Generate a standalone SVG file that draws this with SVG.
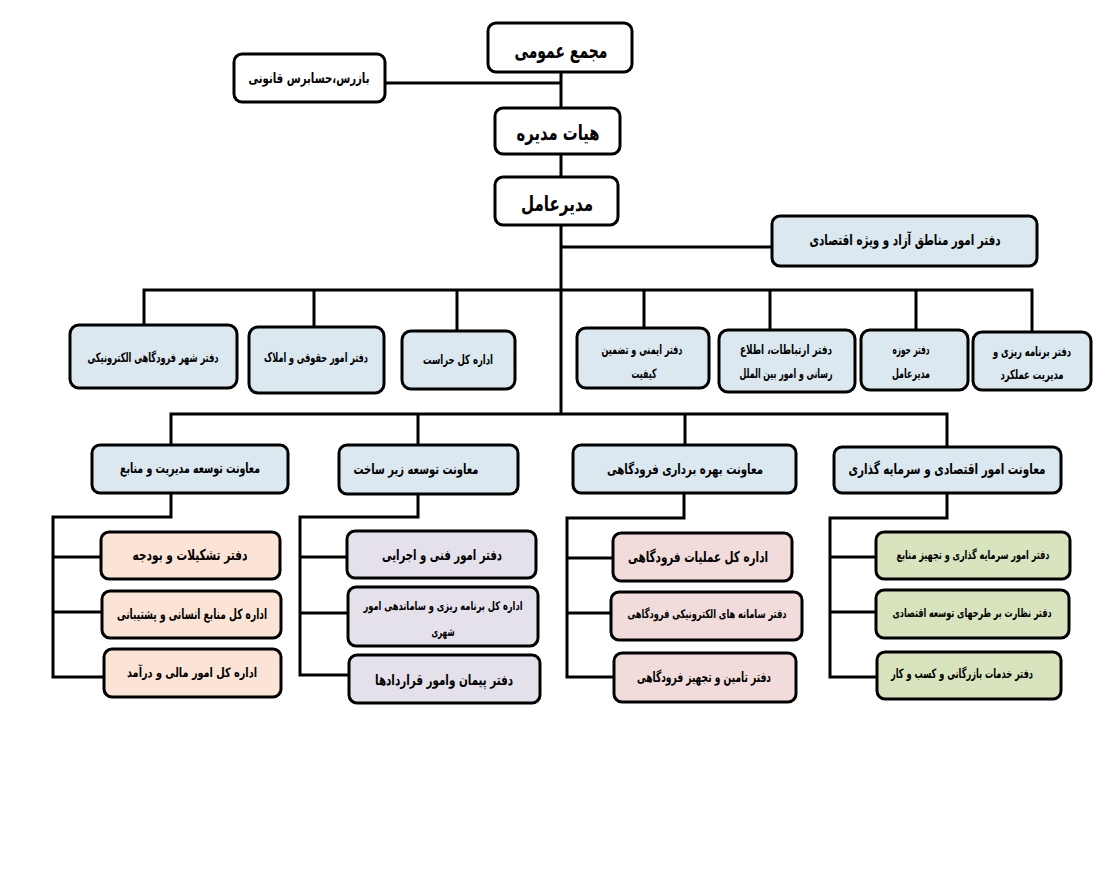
<svg xmlns="http://www.w3.org/2000/svg" width="1112" height="870" viewBox="0 0 1112 870">
<style>
.b{stroke:#000;stroke-width:3;}
.w{fill:#fff;}
.bl{fill:#dbe8f0;}
.pe{fill:#fbe4d5;}
.lv{fill:#e5e1eb;}
.pk{fill:#f2dcdb;}
.gr{fill:#d8e4bd;}
text{font-family:"DejaVu Sans Condensed","DejaVu Sans","Noto Sans",sans-serif;font-weight:bold;fill:#000;text-anchor:middle;direction:rtl;}
.c path{fill:none;stroke:#000;stroke-width:3;}
</style>
<rect width="1112" height="870" fill="#fff"/>
<g class="c" id="connectors">
<path d="M561,72 V108 M385,83 H561 M561,154 V177 M561,225 V414 M561,247 H772"/>
<path d="M144,325 V290 H1032 V332 M314,290 V327 M457,290 V331 M644,290 V328 M770,290 V330 M916,290 V330"/>
<path d="M171,445 V414 H947 V447 M418,414 V445 M685,414 V445"/>
<path d="M171,493 V517 H53 V677 H104 M53,557 H101 M53,612 H102"/>
<path d="M418,494 V517 H300 V675 H349 M300,557 H347 M300,613 H348"/>
<path d="M684,493 V518 H567 V677 H613 M567,558 H613 M567,613 H611"/>
<path d="M947,493 V518 H830 V677 H877 M830,557 H876 M830,612 H876"/>
</g>
<g id="n-majma"><rect class="b w" x="488" y="23" width="144" height="49" rx="8"/><text x="561" y="58" font-size="21" textLength="93" lengthAdjust="spacingAndGlyphs">مجمع عمومی</text></g>
<g id="n-bazras"><rect class="b w" x="234" y="54" width="151" height="48" rx="8"/><text x="309" y="83" font-size="14" textLength="121" lengthAdjust="spacingAndGlyphs">بازرس،حسابرس قانونی</text></g>
<g id="n-hayat"><rect class="b w" x="495" y="108" width="125" height="46" rx="8"/><text x="558" y="140" font-size="21" textLength="83" lengthAdjust="spacingAndGlyphs">هیات مدیره</text></g>
<g id="n-modir"><rect class="b w" x="495" y="177" width="123" height="48" rx="8"/><text x="557" y="211" font-size="21" textLength="72" lengthAdjust="spacingAndGlyphs">مدیرعامل</text></g>
<g id="n-manategh"><rect class="b bl" x="772" y="216" width="265" height="50" rx="8"/><text x="905" y="245" font-size="15" textLength="191" lengthAdjust="spacingAndGlyphs">دفتر  امور مناطق آزاد و ویژه اقتصادی</text></g>
<g id="n-shahr"><rect class="b bl" x="70" y="325" width="167" height="63" rx="9"/><text x="153" y="362" font-size="13" textLength="131" lengthAdjust="spacingAndGlyphs">دفتر شهر فرودگاهی  الکترونیکی</text></g>
<g id="n-hoghughi"><rect class="b bl" x="249" y="327" width="135" height="66" rx="9"/><text x="316" y="362" font-size="13" textLength="104" lengthAdjust="spacingAndGlyphs">دفتر امور حقوقی و املاک</text></g>
<g id="n-herasat"><rect class="b bl" x="402" y="331" width="113" height="58" rx="9"/><text x="458" y="364" font-size="13" textLength="70" lengthAdjust="spacingAndGlyphs">اداره کل حراست</text></g>
<g id="n-imeni"><rect class="b bl" x="577" y="328" width="132" height="60" rx="9"/><text x="642" y="354" font-size="13" textLength="81" lengthAdjust="spacingAndGlyphs">دفتر ایمنی  و تضمین</text><text x="644" y="378" font-size="13" textLength="25" lengthAdjust="spacingAndGlyphs">کیفیت</text></g>
<g id="n-ertebatat"><rect class="b bl" x="719" y="330" width="136" height="62" rx="9"/><text x="786" y="354" font-size="13" textLength="92" lengthAdjust="spacingAndGlyphs">دفتر ارتباطات، اطلاع</text><text x="786" y="378" font-size="13" textLength="93" lengthAdjust="spacingAndGlyphs">رسانی و امور بین الملل</text></g>
<g id="n-hoze"><rect class="b bl" x="861" y="330" width="107" height="60" rx="9"/><text x="911" y="354" font-size="13" textLength="37" lengthAdjust="spacingAndGlyphs">دفتر حوزه</text><text x="911" y="378" font-size="13" textLength="38" lengthAdjust="spacingAndGlyphs">مدیرعامل</text></g>
<g id="n-barnameh"><rect class="b bl" x="973" y="332" width="118" height="58" rx="9"/><text x="1032" y="356" font-size="13" textLength="78" lengthAdjust="spacingAndGlyphs">دفتر برنامه ریزی و</text><text x="1032" y="379" font-size="13" textLength="63" lengthAdjust="spacingAndGlyphs">مدیریت عملکرد</text></g>
<g id="n-tosemodiriat"><rect class="b bl" x="92" y="445" width="196" height="48" rx="8"/><text x="190" y="473" font-size="14" textLength="140" lengthAdjust="spacingAndGlyphs">معاونت توسعه  مدیریت و منابع</text></g>
<g id="n-zirsakht"><rect class="b bl" x="339" y="445" width="179" height="49" rx="8"/><text x="416" y="474" font-size="14" textLength="125" lengthAdjust="spacingAndGlyphs">معاونت توسعه زیر ساخت</text></g>
<g id="n-bahre"><rect class="b bl" x="573" y="445" width="223" height="48" rx="8"/><text x="685" y="474" font-size="14" textLength="156" lengthAdjust="spacingAndGlyphs">معاونت بهره برداری فرودگاهی</text></g>
<g id="n-eghtesadi"><rect class="b bl" x="834" y="447" width="227" height="46" rx="8"/><text x="947" y="474" font-size="15" textLength="197" lengthAdjust="spacingAndGlyphs">معاونت امور اقتصادی و سرمایه گذاری</text></g>
<g id="n-tashkilat"><rect class="b pe" x="101" y="532" width="179" height="47" rx="8"/><text x="190" y="560" font-size="15" textLength="115" lengthAdjust="spacingAndGlyphs">دفتر  تشکیلات و بودجه</text></g>
<g id="n-ensani"><rect class="b pe" x="102" y="591" width="179" height="47" rx="8"/><text x="192" y="619" font-size="14" textLength="150" lengthAdjust="spacingAndGlyphs">اداره کل منابع انسانی و پشتیبانی</text></g>
<g id="n-mali"><rect class="b pe" x="104" y="649" width="177" height="48" rx="8"/><text x="192" y="677" font-size="13" textLength="130" lengthAdjust="spacingAndGlyphs">اداره کل امور مالی و درآمد</text></g>
<g id="n-fani"><rect class="b lv" x="347" y="531" width="189" height="47" rx="8"/><text x="442" y="560" font-size="15" textLength="120" lengthAdjust="spacingAndGlyphs">دفتر امور فنی و اجرایی</text></g>
<g id="n-shahri"><rect class="b lv" x="348" y="587" width="190" height="59" rx="8"/><text x="443" y="610" font-size="12" textLength="159" lengthAdjust="spacingAndGlyphs">اداره کل برنامه ریزی و ساماندهی امور</text><text x="443" y="636" font-size="12" textLength="23" lengthAdjust="spacingAndGlyphs">شهری</text></g>
<g id="n-peyman"><rect class="b lv" x="349" y="655" width="191" height="48" rx="8"/><text x="444" y="685" font-size="15" textLength="138" lengthAdjust="spacingAndGlyphs">دفتر پیمان وامور قراردادها</text></g>
<g id="n-amaliat"><rect class="b pk" x="613" y="533" width="179" height="48" rx="8"/><text x="698" y="562" font-size="15" textLength="140" lengthAdjust="spacingAndGlyphs">اداره کل عملیات فرودگاهی</text></g>
<g id="n-samaneh"><rect class="b pk" x="611" y="592" width="191" height="48" rx="8"/><text x="707" y="618" font-size="12" textLength="159" lengthAdjust="spacingAndGlyphs">دفتر سامانه های الکترونیکی فرودگاهی</text></g>
<g id="n-tamin"><rect class="b pk" x="614" y="653" width="182" height="49" rx="8"/><text x="704" y="682" font-size="14" textLength="134" lengthAdjust="spacingAndGlyphs">دفتر تامین و تجهیز فرودگاهی</text></g>
<g id="n-sarmayeh"><rect class="b gr" x="876" y="532" width="194" height="47" rx="8"/><text x="973" y="559" font-size="12" textLength="153" lengthAdjust="spacingAndGlyphs">دفتر امور سرمایه گذاری و تجهیز منابع</text></g>
<g id="n-nezarat"><rect class="b gr" x="876" y="590" width="193" height="48" rx="8"/><text x="972" y="617" font-size="12" textLength="159" lengthAdjust="spacingAndGlyphs">دفتر نظارت بر طرحهای توسعه اقتصادی</text></g>
<g id="n-khadamat"><rect class="b gr" x="877" y="652" width="184" height="47" rx="8"/><text x="962" y="678" font-size="13" textLength="142" lengthAdjust="spacingAndGlyphs">دفتر خدمات بازرگانی و کسب و کار</text></g>
</svg>
